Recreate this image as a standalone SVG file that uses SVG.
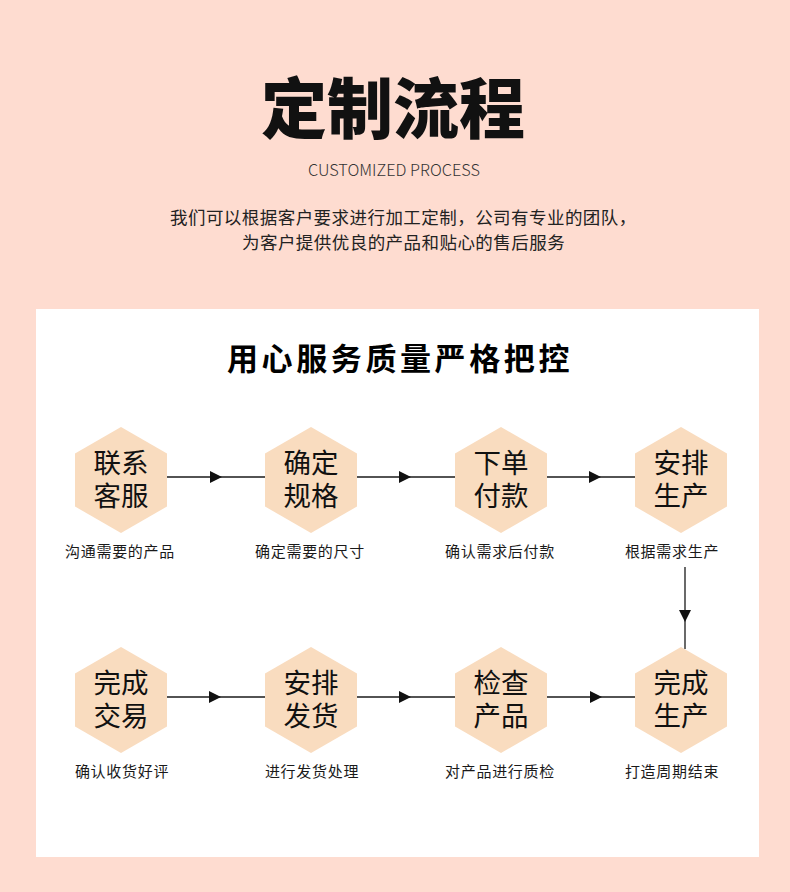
<svg xmlns="http://www.w3.org/2000/svg" xmlns:xlink="http://www.w3.org/1999/xlink" width="790" height="892" viewBox="0 0 790 892">
<style>
text{font-family:"Noto Sans CJK SC","Noto Sans",sans-serif;fill:#111}
.hex{fill:#F9DCBF}
.ht{font-size:27.5px;text-anchor:middle;fill:#111}
.cap{font-size:15px;letter-spacing:0.7px;text-anchor:middle;fill:#1a1a1a}
.conn{fill:none;stroke:#1a1a1a;stroke-width:1.3}
</style>
<defs>
<polygon id="hexshape" points="0,-53 46,-26.5 46,26.5 0,53 -46,26.5 -46,-26.5"/>
<marker id="arr" markerWidth="12" markerHeight="12" refX="12" refY="6" orient="auto" markerUnits="userSpaceOnUse">
<path d="M0,0 L12,6 L0,12 Z" fill="#111"/>
</marker>
</defs>
<rect x="0" y="0" width="790" height="892" fill="#FEDCD0"/>
<g id="header">
<text x="393" y="133" font-size="66" font-weight="900" text-anchor="middle" fill="#000">定制流程</text>
<text x="394" y="176" font-size="16" font-weight="300" text-anchor="middle" fill="#333" textLength="172" lengthAdjust="spacingAndGlyphs" style="font-family:'Noto Sans CJK SC','Noto Sans',sans-serif;fill:#333">CUSTOMIZED PROCESS</text>
<text x="170" y="224" font-size="17.5" letter-spacing="0.45" fill="#222" style="fill:#222">我们可以根据客户要求进行加工定制，公司有专业的团队，</text>
<text x="242" y="249" font-size="17.5" letter-spacing="0.45" fill="#222" style="fill:#222">为客户提供优良的产品和贴心的售后服务</text>
</g>
<rect id="panel" x="36" y="309" width="723" height="548" fill="#FFFFFF"/>
<text x="400" y="370" font-size="31" font-weight="700" letter-spacing="3.6" text-anchor="middle" fill="#000" style="fill:#000">用心服务质量严格把控</text>
<g id="connectors">
<polyline class="conn" points="167,477 222,477 265,477" marker-mid="url(#arr)"/>
<polyline class="conn" points="357,477 411,477 455,477" marker-mid="url(#arr)"/>
<polyline class="conn" points="547,477 601,477 635,477" marker-mid="url(#arr)"/>
<polyline class="conn" points="685,567 685,622 685,649" marker-mid="url(#arr)"/>
<polyline class="conn" points="167,697 221,697 265,697" marker-mid="url(#arr)"/>
<polyline class="conn" points="357,697 411,697 455,697" marker-mid="url(#arr)"/>
<polyline class="conn" points="547,697 602,697 635,697" marker-mid="url(#arr)"/>
</g>
<g id="n1">
<use xlink:href="#hexshape" href="#hexshape" class="hex" x="121" y="480"/>
<text class="ht" x="121" y="473">联系<tspan x="121" dy="33">客服</tspan></text>
<text class="cap" x="120" y="557">沟通需要的产品</text>
</g>
<g id="n2">
<use xlink:href="#hexshape" href="#hexshape" class="hex" x="311" y="480"/>
<text class="ht" x="311" y="473">确定<tspan x="311" dy="33">规格</tspan></text>
<text class="cap" x="310" y="557">确定需要的尺寸</text>
</g>
<g id="n3">
<use xlink:href="#hexshape" href="#hexshape" class="hex" x="501" y="480"/>
<text class="ht" x="501" y="473">下单<tspan x="501" dy="33">付款</tspan></text>
<text class="cap" x="500" y="557">确认需求后付款</text>
</g>
<g id="n4">
<use xlink:href="#hexshape" href="#hexshape" class="hex" x="681" y="480"/>
<text class="ht" x="681" y="473">安排<tspan x="681" dy="33">生产</tspan></text>
<text class="cap" x="672" y="557">根据需求生产</text>
</g>
<g id="n5">
<use xlink:href="#hexshape" href="#hexshape" class="hex" x="121" y="700"/>
<text class="ht" x="121" y="693">完成<tspan x="121" dy="33">交易</tspan></text>
<text class="cap" x="122" y="777">确认收货好评</text>
</g>
<g id="n6">
<use xlink:href="#hexshape" href="#hexshape" class="hex" x="311" y="700"/>
<text class="ht" x="311" y="693">安排<tspan x="311" dy="33">发货</tspan></text>
<text class="cap" x="312" y="777">进行发货处理</text>
</g>
<g id="n7">
<use xlink:href="#hexshape" href="#hexshape" class="hex" x="501" y="700"/>
<text class="ht" x="501" y="693">检查<tspan x="501" dy="33">产品</tspan></text>
<text class="cap" x="500" y="777">对产品进行质检</text>
</g>
<g id="n8">
<use xlink:href="#hexshape" href="#hexshape" class="hex" x="681" y="700"/>
<text class="ht" x="681" y="693">完成<tspan x="681" dy="33">生产</tspan></text>
<text class="cap" x="672" y="777">打造周期结束</text>
</g>
</svg>
